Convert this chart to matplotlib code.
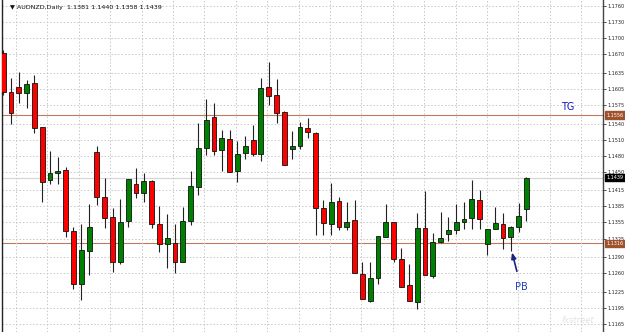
import matplotlib
matplotlib.use("Agg")
import matplotlib.pyplot as plt
import matplotlib.transforms as mtransforms
import numpy as np

# daily AUDNZD candles
opens = [1.1672, 1.1599, 1.1609, 1.1597, 1.1616, 1.1534, 1.1435, 1.1448, 1.1453, 1.1339,
         1.1240, 1.1302, 1.1487, 1.1403, 1.1365, 1.1281, 1.1358, 1.1427, 1.1410, 1.1433,
         1.1352, 1.1315, 1.1317, 1.1281, 1.1358, 1.1421, 1.1494, 1.1552, 1.1491, 1.1511,
         1.1451, 1.1485, 1.1509, 1.1483, 1.1609, 1.1594, 1.1562, 1.1493, 1.1498, 1.1532,
         1.1522, 1.1382, 1.1352, 1.1395, 1.1347, 1.1360, 1.1259, 1.1208, 1.1251, 1.1328,
         1.1356, 1.1287, 1.1238, 1.1206, 1.1345, 1.1255, 1.1319, 1.1333, 1.1341, 1.1356,
         1.1363, 1.1397, 1.1315, 1.1343, 1.1352, 1.1328, 1.1347, 1.1381]
highs = [1.1678, 1.1625, 1.1637, 1.1622, 1.1631, 1.1534, 1.1489, 1.1478, 1.1459, 1.1347,
         1.1352, 1.1390, 1.1498, 1.1438, 1.1382, 1.1399, 1.1436, 1.1457, 1.1448, 1.1435,
         1.1386, 1.1371, 1.1352, 1.1384, 1.1451, 1.1541, 1.1586, 1.1579, 1.1528, 1.1528,
         1.1508, 1.1517, 1.1537, 1.1625, 1.1655, 1.1624, 1.1564, 1.1526, 1.1543, 1.1551,
         1.1524, 1.1397, 1.1429, 1.1403, 1.1393, 1.1397, 1.1281, 1.1281, 1.1330, 1.1390,
         1.1356, 1.1307, 1.1277, 1.1373, 1.1414, 1.1335, 1.1375, 1.1365, 1.1390, 1.1393,
         1.1435, 1.1416, 1.1343, 1.1384, 1.1373, 1.1348, 1.1392, 1.1440]
lows = [1.1594, 1.1539, 1.1579, 1.1569, 1.1522, 1.1393, 1.1427, 1.1427, 1.1328, 1.1231,
        1.1210, 1.1257, 1.1388, 1.1345, 1.1262, 1.1277, 1.1347, 1.1401, 1.1393, 1.1345,
        1.1300, 1.1270, 1.1260, 1.1281, 1.1350, 1.1406, 1.1481, 1.1481, 1.1451, 1.1449,
        1.1431, 1.1474, 1.1479, 1.1470, 1.1575, 1.1541, 1.1463, 1.1474, 1.1493, 1.1513,
        1.1332, 1.1332, 1.1332, 1.1341, 1.1341, 1.1261, 1.1212, 1.1206, 1.1240, 1.1328,
        1.1281, 1.1234, 1.1208, 1.1193, 1.1257, 1.1251, 1.1317, 1.1320, 1.1333, 1.1343,
        1.1343, 1.1343, 1.1294, 1.1343, 1.1305, 1.1302, 1.1337, 1.1358]
closes = [1.1599, 1.1560, 1.1597, 1.1614, 1.1532, 1.1431, 1.1448, 1.1451, 1.1339, 1.1240,
          1.1304, 1.1347, 1.1403, 1.1363, 1.1281, 1.1356, 1.1436, 1.1410, 1.1433, 1.1352,
          1.1315, 1.1326, 1.1281, 1.1358, 1.1423, 1.1494, 1.1547, 1.1489, 1.1513, 1.1449,
          1.1483, 1.1498, 1.1483, 1.1607, 1.1592, 1.1560, 1.1463, 1.1498, 1.1534, 1.1524,
          1.1382, 1.1354, 1.1393, 1.1347, 1.1356, 1.1261, 1.1212, 1.1251, 1.1330, 1.1356,
          1.1287, 1.1234, 1.1208, 1.1345, 1.1257, 1.1319, 1.1326, 1.1341, 1.1356, 1.1362,
          1.1399, 1.1362, 1.1343, 1.1354, 1.1326, 1.1347, 1.1367, 1.1439]

price_ticks = [1.1760, 1.1730, 1.1700, 1.1670, 1.1635, 1.1605, 1.1575, 1.1540, 1.1510, 1.1480,
               1.1450, 1.1415, 1.1385, 1.1355, 1.1325, 1.1290, 1.1260, 1.1225, 1.1195, 1.1165]
tg_level = 1.1556
pb_level = 1.1316
last_price = 1.1439
title = "AUDNZD,Daily  1.1381 1.1440 1.1358 1.1439"

opens = np.array(opens)
closes = np.array(closes)
highs = np.array(highs)
lows = np.array(lows)
x = np.arange(len(opens))

fig = plt.figure(figsize=(6.25, 3.32), dpi=100)
ax = fig.add_axes([2 / 625, 0.0, 601 / 625, 1.0])

ax.set_xlim(-0.15, 76.8)
ax.set_ylim(1.11501, 1.17713)

# grid
ax.set_yticks(price_ticks)
ax.set_xticks(np.arange(1.65, 76.8, 4.02))
ax.grid(True, color="#c8c8c8", linestyle=(0, (1.5, 2)), linewidth=0.7)
ax.tick_params(axis="x", length=0, labelbottom=False)
ax.yaxis.tick_right()
ax.tick_params(axis="y", length=2.2, width=0.6, color="#333333", pad=0.8,
               labelsize=3.5, labelcolor="#222222")
ax.set_yticklabels([f"{v:.4f}" for v in price_ticks])

for s in ["top", "bottom"]:
    ax.spines[s].set_visible(False)
ax.spines["left"].set_color("#222222")
ax.spines["right"].set_color("#444444")
ax.spines["left"].set_linewidth(1.0)
ax.spines["right"].set_linewidth(1.0)

# levels
ax.axhline(last_price, color="#d4d4d4", linewidth=0.8, zorder=1)
ax.axhline(tg_level, color="#c07a55", linewidth=0.8, zorder=1)
ax.axhline(pb_level, color="#c07a55", linewidth=0.8, zorder=1)

# candles
up = closes >= opens
ax.vlines(x, lows, highs, color="#222222", linewidth=0.8, zorder=2)
ax.bar(x[up], (closes - opens)[up], bottom=opens[up], width=0.62,
       color="#008000", edgecolor="#111111", linewidth=0.6, zorder=3)
ax.bar(x[~up], (opens - closes)[~up], bottom=closes[~up], width=0.62,
       color="#ff0000", edgecolor="#111111", linewidth=0.6, zorder=3)

# price boxes on the axis
trans = mtransforms.blended_transform_factory(ax.transAxes, ax.transData)
for val, col in [(tg_level, "#a0522d"), (last_price, "#000000"), (pb_level, "#a0522d")]:
    ax.text(1.006, val, f"{val:.4f}", transform=trans, fontsize=3.5, color="white",
            va="center", ha="left", zorder=10, clip_on=False,
            bbox=dict(boxstyle="square,pad=0.25", fc=col, ec=col))

# labels
ax.text(0.93, 1.1572, "TG", transform=trans, fontsize=7, color="#1414c8", va="center")
ax.text(0.013, 0.985, "\u25bc " + title, transform=ax.transAxes, fontsize=4.6,
        color="#111111", va="top", ha="left")
ax.annotate("PB", xy=(65.15, 1.1299), xytext=(66.3, 1.1234), fontsize=7, color="#1f3fbf",
            ha="center", va="center",
            arrowprops=dict(arrowstyle="-|>,head_length=0.5,head_width=0.2",
                            color="#1a237e", linewidth=1.2, shrinkB=0, shrinkA=6))
ax.text(0.985, 0.02, "fxstreet", transform=ax.transAxes, fontsize=6, color="#e2e2e2",
        ha="right", va="bottom", style="italic")

fig.savefig("out.png", dpi=100)
